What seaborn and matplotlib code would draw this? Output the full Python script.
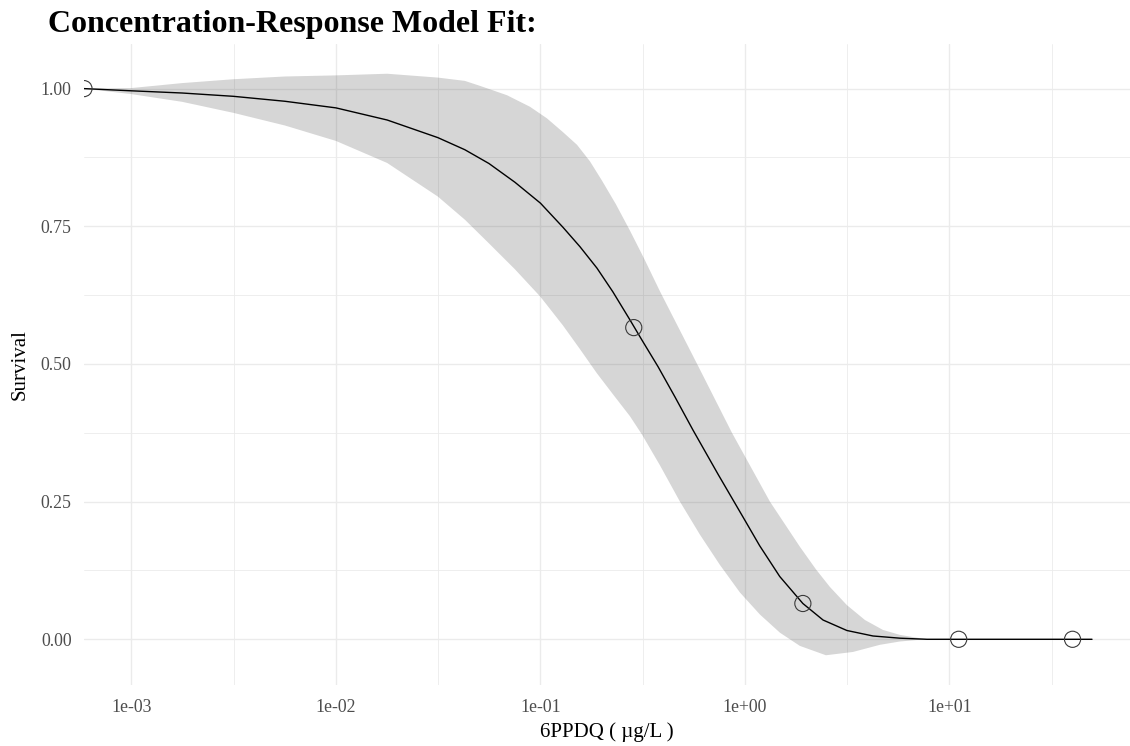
import numpy as np
import pandas as pd
import matplotlib
matplotlib.use("Agg")
import matplotlib.pyplot as plt
from matplotlib.ticker import FixedLocator, FixedFormatter, NullFormatter
import seaborn as sns

# Observed survival at each 6PPDQ concentration (µg/L)
obs_conc = [0.000586, 0.286, 1.92, 11.1, 40.0]
obs_surv = [1.0, 0.566, 0.065, 0.0, 0.0]

# Fitted concentration-response curve
fit_conc = [0.000586, 0.001, 0.00177, 0.00315, 0.00563, 0.0100, 0.0178,
            0.0315, 0.0427, 0.0560, 0.0750, 0.100, 0.129, 0.156, 0.189,
            0.226, 0.274, 0.314, 0.376, 0.455, 0.557, 0.738, 1.00, 1.18,
            1.48, 1.92, 2.41, 3.15, 4.23, 5.73, 7.76, 10.0, 49.8]
fit_surv = [1.000, 0.996, 0.992, 0.986, 0.977, 0.965, 0.943, 0.911, 0.889,
            0.864, 0.830, 0.792, 0.748, 0.713, 0.674, 0.631, 0.580, 0.543,
            0.495, 0.440, 0.380, 0.300, 0.216, 0.170, 0.114, 0.065, 0.035,
            0.016, 0.006, 0.002, 0.0, 0.0, 0.0]

# Upper confidence limit
upper_conc = [0.000586, 0.001, 0.00177, 0.00315, 0.00563, 0.0100, 0.0178,
              0.0315, 0.0427, 0.0506, 0.0686, 0.0889, 0.1076, 0.1288, 0.1509,
              0.1746, 0.1999, 0.2339, 0.2741, 0.3207, 0.384, 0.589, 0.864,
              1.325, 1.857, 2.225, 2.604, 3.153, 3.863, 4.730, 5.727, 7.173,
              8.028]
upper_surv = [1.000, 1.001, 1.010, 1.017, 1.022, 1.024, 1.027, 1.020, 1.014,
              1.005, 0.988, 0.967, 0.946, 0.921, 0.898, 0.868, 0.833, 0.790,
              0.742, 0.692, 0.632, 0.497, 0.375, 0.250, 0.168, 0.127, 0.095,
              0.062, 0.035, 0.017, 0.008, 0.002, 0.0]

# Lower confidence limit
lower_conc = [0.000586, 0.001, 0.00177, 0.00315, 0.00563, 0.0100, 0.0178,
              0.0315, 0.0427, 0.0560, 0.0750, 0.100, 0.1288, 0.156, 0.1889,
              0.2262, 0.2741, 0.3135, 0.384, 0.4811, 0.6026, 0.7548, 0.9453,
              1.184, 1.483, 1.857, 2.489, 3.375, 4.573, 5.727, 7.590]
lower_surv = [1.000, 0.990, 0.976, 0.956, 0.933, 0.905, 0.865, 0.804, 0.762,
              0.719, 0.672, 0.622, 0.570, 0.527, 0.483, 0.445, 0.405, 0.372,
              0.316, 0.250, 0.190, 0.135, 0.085, 0.045, 0.012, -0.012, -0.029,
              -0.023, -0.010, -0.004, 0.0]

x_ticks = [1e-3, 1e-2, 1e-1, 1e0, 1e1]
x_tick_labels = ["1e-03", "1e-02", "1e-01", "1e+00", "1e+01"]
y_ticks = [0.0, 0.25, 0.5, 0.75, 1.0]
y_tick_labels = ["0.00", "0.25", "0.50", "0.75", "1.00"]

obs = pd.DataFrame({"conc": obs_conc, "surv": obs_surv})
fit = pd.DataFrame({"conc": fit_conc, "surv": fit_surv})

sns.set_theme(style="white")
plt.rcParams["font.family"] = ["Liberation Serif", "DejaVu Serif"]

fig = plt.figure(figsize=(11.3, 7.46), dpi=100)
ax = fig.add_axes([84 / 1130, 1 - 685 / 746, 1 - 84 / 1130, (685 - 44) / 746])
ax.set_xscale("log")

# confidence ribbon: upper limit left to right, lower limit back again
band_x = np.concatenate([upper_conc, lower_conc[::-1]])
band_y = np.concatenate([upper_surv, lower_surv[::-1]])
ax.fill(band_x, band_y, color="#333333", alpha=0.2, linewidth=0, zorder=2)

# fitted curve
sns.lineplot(data=fit, x="conc", y="surv", ax=ax, color="black",
             linewidth=1.0, sort=False, zorder=3)
# observations
sns.scatterplot(data=obs, x="conc", y="surv", ax=ax, marker="o", s=135,
                facecolor="none", edgecolor="#3a3a3a", linewidth=0.8, zorder=4)

ax.set_xlim(10 ** -3.232, 10 ** 1.883)
ax.set_ylim(-0.083, 1.081)

ax.xaxis.set_major_locator(FixedLocator(x_ticks))
ax.xaxis.set_major_formatter(FixedFormatter(x_tick_labels))
ax.xaxis.set_minor_locator(FixedLocator([10 ** (k + 0.5) for k in range(-4, 2)]))
ax.xaxis.set_minor_formatter(NullFormatter())
ax.yaxis.set_major_locator(FixedLocator(y_ticks))
ax.yaxis.set_major_formatter(FixedFormatter(y_tick_labels))
ax.yaxis.set_minor_locator(FixedLocator([0.125, 0.375, 0.625, 0.875]))

ax.grid(which="major", color="#EBEBEB", linewidth=1.0, zorder=0)
ax.grid(which="minor", color="#EBEBEB", linewidth=0.6, zorder=0)
ax.set_axisbelow(True)
for sp in ax.spines.values():
    sp.set_visible(False)

ax.tick_params(axis="both", which="both", length=0, labelsize=12.8,
               labelcolor="#4D4D4D")
ax.tick_params(axis="x", pad=10)
ax.tick_params(axis="y", pad=9)

ax.set_xlabel("6PPDQ ( µg/L )", fontsize=15, color="black")
ax.set_ylabel("Survival", fontsize=15, color="black")
ax.xaxis.set_label_coords(0.5, (685 - 732) / 641)
ax.xaxis.label.set_va("center")
ax.yaxis.set_label_coords((20 - 84) / 1046, 0.5)
ax.yaxis.label.set_va("center")

fig.text(48 / 1130, 1 - 32 / 746, "Concentration-Response Model Fit:",
         fontsize=23, fontweight="bold", color="black",
         ha="left", va="baseline")

fig.savefig("out.png", dpi=100)
